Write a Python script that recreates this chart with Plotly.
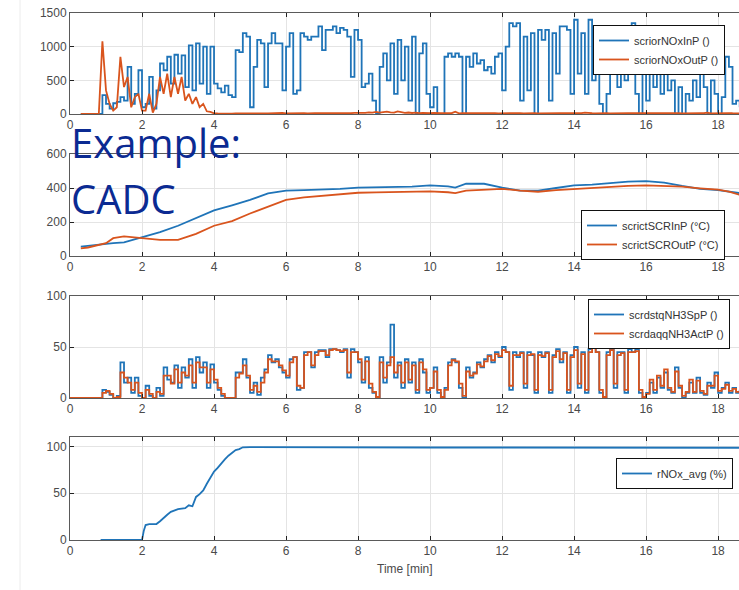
import plotly.graph_objects as go

# ---------------- data ----------------
# fast signals sampled every 0.1 min, one row per minute
nox_in = [
    None, None, None, 0, 0, 0, 0, 0, 0, 280,
    150, 80, 160, 180, 250, 200, 700, 150, 300, 650,
    100, 150, 550, 80, 350, 750, 650, 850, 450, 880,
    600, 870, 400, 1020, 350, 1050, 450, 1000, 300, 1000,
    450, 380, 320, 420, 280, 250, 950, 920, 1200, 1150,
    100, 700, 1100, 1050, 400, 1050, 1200, 1050, 1050, 350,
    1000, 1200, 300, 350, 1200, 1150, 1100, 1150, 1150, 1300,
    950, 1250, 1250, 1300, 1200, 1280, 1250, 1150, 550, 1250,
    1100, 400, 450, 600, 200, 0, 700, 900, 500, 1050,
    300, 1100, 500, 1000, 200, 1150, 0, 900, 1050, 300,
    100, 400, 0, 0, 850, 900, 850, 900, 850, 0,
    850, 700, 900, 750, 800, 650, 700, 600, 850, 900,
    350, 1000, 1350, 1300, 1350, 200, 1150, 350, 1200, 0,
    1250, 1100, 1250, 200, 1200, 600, 1300, 1300, 1250, 300,
    1400, 600, 1200, 300, 1400, 500, 800, 150, 0, 300,
    800, 1300, 400, 1200, 500, 1300, 1350, 300, 0, 600,
    200, 900, 400, 700, 300, 600, 350, 500, 0, 400,
    0, 300, 200, 500, 250, 700, 400, 0, 500, 300,
    0, 250, 850, 700, 150, 200, 100,
]
nox_out = [
    None, None, None, 0, 0, 0, 0, 0, 0, 1080,
    350, 150, 50, 100, 850, 400, 550, 100, 250, 300,
    50, 50, 300, 20, 150, 550, 300, 600, 250, 550,
    300, 550, 200, 300, 150, 250, 100, 150, 40, 30,
    10, 8, 5, 6, 4, 5, 8, 6, 10, 12,
    8, 10, 6, 12, 8, 10, 14, 9, 12, 15,
    10, 12, 8, 14, 10, 12, 9, 15, 11, 13,
    12, 10, 14, 9, 13, 16, 11, 14, 12, 18,
    15, 22, 18, 25, 20, 30, 22, 28, 35, 25,
    20, 40, 25, 18, 22, 15, 20, 12, 16, 10,
    12, 15, 10, 12, 14, 9, 12, 35, 10, 12,
    10, 12, 9, 11, 13, 10, 12, 9, 11, 10,
    12, 10, 13, 9, 11, 12, 10, 14, 11, 12,
    10, 12, 11, 13, 10, 12, 14, 11, 10, 12,
    13, 10, 12, 20, 11, 12, 10, 14, 11, 12,
    10, 12, 11, 13, 10, 12, 11, 14, 10, 12,
    11, 12, 10, 13, 11, 12, 10, 14, 11, 12,
    10, 12, 11, 13, 10, 12, 11, 20, 10, 12,
    11, 12, 10, 13, 11, 12, 10,
]
nh3_sp = [
    0, 0, 0, 0, 0, 0, 0, 0, 0, 8,
    6, 3, 0, 2, 35, 15, 20, 5, 20, 2,
    0, 12, 2, 0, 10, 2, 30, 18, 15, 32,
    10, 30, 20, 38, 10, 40, 25, 35, 10, 33,
    15, 8, 2, 0, 0, 0, 25, 25, 38, 20,
    5, 15, 3, 20, 28, 42, 35, 38, 30, 25,
    20, 38, 40, 8, 10, 45, 45, 30, 45, 47,
    47, 40, 48, 48, 47, 45, 48, 20, 48, 45,
    35, 15, 40, 10, 5, 0, 40, 15, 35, 72,
    20, 35, 10, 38, 15, 35, 5, 38, 25, 5,
    10, 30, 5, 0, 10, 35, 38, 35, 10, 0,
    30, 20, 25, 35, 30, 38, 42, 35, 45, 40,
    50, 45, 8, 45, 40, 45, 10, 45, 42, 5,
    45, 40, 45, 5, 42, 48, 35, 45, 5, 42,
    50, 10, 45, 5, 48, 52, 45, 5, 0, 45,
    48, 10, 45, 45, 5, 48, 45, 48, 5, 0,
    5, 15, 5, 20, 10, 25, 8, 5, 30, 10,
    0, 5, 15, 5, 20, 5, 3, 15, 10, 25,
    5, 10, 15, 5, 10, 5, 8,
]
nh3_act = [
    0, 0, 0, 0, 0, 0, 0, 0, 0, 5,
    7, 4, 0, 1, 25, 20, 15, 8, 15, 5,
    0, 8, 4, 0, 6, 4, 22, 22, 14, 28,
    15, 25, 22, 32, 15, 35, 30, 30, 15, 28,
    18, 10, 4, 0, 0, 0, 20, 24, 32, 22,
    8, 12, 6, 15, 25, 38, 36, 36, 32, 27,
    22, 35, 40, 12, 10, 42, 45, 32, 42, 46,
    46, 42, 47, 48, 47, 46, 47, 25, 45, 45,
    38, 18, 36, 14, 6, 1, 35, 20, 32, 40,
    25, 32, 15, 35, 18, 32, 8, 35, 28, 8,
    10, 26, 8, 1, 8, 32, 37, 36, 14, 2,
    26, 22, 24, 33, 31, 36, 41, 37, 43, 41,
    47, 45, 12, 42, 42, 44, 14, 42, 43, 8,
    42, 41, 44, 8, 40, 46, 38, 44, 8, 40,
    47, 14, 43, 8, 45, 49, 45, 8, 1, 42,
    47, 14, 42, 44, 8, 45, 45, 46, 8, 1,
    4, 18, 8, 22, 12, 28, 10, 6, 26, 12,
    2, 6, 18, 6, 17, 7, 4, 12, 12, 22,
    7, 9, 13, 7, 9, 6, 7,
]
t_fast = [round(i * 0.1, 1) for i in range(len(nox_in))]

t_temp = [0.3, 0.5, 1.0, 1.2, 1.5, 2.0, 2.5, 3.0, 3.5, 4.0, 4.5, 5.0, 5.5, 6.0,
          6.5, 7.0, 7.5, 8.0, 8.5, 9.0, 9.5, 10.0, 10.5, 10.7, 11.0, 11.5, 12.0,
          12.5, 13.0, 13.5, 14.0, 14.5, 15.0, 15.5, 16.0, 16.5, 17.0, 17.5, 18.0,
          18.3, 18.6]
scr_in = [55, 60, 75, 76, 80, 108, 140, 178, 222, 268, 298, 330, 368, 385, 388,
          390, 395, 402, 403, 405, 408, 415, 410, 402, 425, 425, 402, 385, 385,
          400, 415, 420, 430, 438, 440, 432, 412, 395, 388, 380, 370]
scr_out = [45, 50, 75, 105, 115, 105, 95, 95, 130, 178, 205, 250, 290, 330, 345,
           355, 362, 372, 374, 376, 378, 380, 375, 370, 385, 390, 395, 385, 378,
           388, 395, 400, 405, 412, 415, 412, 408, 398, 390, 378, 360]

t_rnox = [0.85, 1.0, 1.5, 2.0, 2.05, 2.1, 2.2, 2.4, 2.5, 2.6, 2.7, 2.8, 3.0, 3.2,
          3.3, 3.4, 3.5, 3.6, 3.7, 3.8, 3.9, 4.0, 4.1, 4.2, 4.3, 4.4, 4.5, 4.6,
          4.7, 4.8, 5.0, 6.0, 8.0, 10.0, 12.0, 14.0, 16.0, 18.0, 18.6]
rnox = [0, 0, 0, 0, 10, 16, 17, 17, 20, 24, 27, 30, 33, 34, 37, 36, 46, 49, 53,
        60, 66, 73, 77, 82, 86, 90, 93, 96, 97, 99, 99.2, 99, 99, 98.8, 98.8,
        98.8, 98.8, 98.6, 98.5]

x_ticks = [0, 2, 4, 6, 8, 10, 12, 14, 16, 18]
y_ticks = [[0, 500, 1000, 1500], [0, 200, 400, 600], [0, 50, 100], [0, 50, 100]]
y_ranges = [[0, 1500], [0, 600], [0, 100], [0, 110]]
names = [["scriorNOxInP ()", "scriorNOxOutP ()"],
         ["scrictSCRInP (°C)", "scrictSCROutP (°C)"],
         ["scrdstqNH3SpP ()", "scrdaqqNH3ActP ()"],
         ["rNOx_avg (%)"]]

# ---------------- figure ----------------
W, H = 739, 590
BLUE = "#1f74b8"
ORANGE = "#d9541d"
TXT = "#4a4a4a"

# panel vertical pixel extents (top, bottom)
panels = [(13, 114), (154, 256), (296, 398), (437, 540)]
legend_pos = [(725, 25), (725, 210), (730, 299), (733, 458)]

fig = go.Figure()
series = [
    [(t_fast, nox_in, BLUE, "hv"), (t_fast, nox_out, ORANGE, "linear")],
    [(t_temp, scr_in, BLUE, "linear"), (t_temp, scr_out, ORANGE, "linear")],
    [(t_fast, nh3_sp, BLUE, "hv"), (t_fast, nh3_act, ORANGE, "hv")],
    [(t_rnox, rnox, BLUE, "linear")],
]
for p, group in enumerate(series):
    sfx = "" if p == 0 else str(p + 1)
    for k, (xs, ys, col, shp) in enumerate(group):
        fig.add_trace(go.Scatter(
            x=xs, y=ys, mode="lines", name=names[p][k],
            line=dict(color=col, width=1.8, shape=shp),
            xaxis="x" + sfx, yaxis="y" + sfx,
            legend="legend" + sfx, showlegend=True,
        ))

layout = dict(
    width=W, height=H, margin=dict(l=0, r=0, t=0, b=0),
    paper_bgcolor="white", plot_bgcolor="white",
    font=dict(family="Liberation Sans, Arial, sans-serif", size=12, color=TXT),
)
x0 = 70 / W
for p, (top, bot) in enumerate(panels):
    sfx = "" if p == 0 else str(p + 1)
    dom = [1 - bot / H, 1 - top / H]
    layout["xaxis" + sfx] = dict(
        domain=[x0, 1], range=[0, 18.58], anchor="y" + sfx,
        tickvals=x_ticks, ticks="inside", ticklen=4, tickcolor="#222",
        showline=True, linecolor="#5a5a5a", linewidth=1, mirror="ticks",
        showgrid=True, gridcolor="#e4e4e4", zeroline=False,
        tickfont=dict(size=12, color=TXT), automargin=False, fixedrange=True,
    )
    layout["yaxis" + sfx] = dict(
        domain=dom, range=y_ranges[p], anchor="x" + sfx,
        tickvals=y_ticks[p], ticks="inside", ticklen=4, tickcolor="#222",
        showline=True, linecolor="#5a5a5a", linewidth=1, mirror=False,
        showgrid=True, gridcolor="#e4e4e4", zeroline=False,
        tickfont=dict(size=12, color=TXT), automargin=False, fixedrange=True,
    )
    lx, ly = legend_pos[p]
    layout["legend" + sfx] = dict(
        x=lx / W, y=1 - ly / H, xanchor="right", yanchor="top",
        xref="paper", yref="paper",
        bgcolor="white", bordercolor="#111", borderwidth=1,
        font=dict(size=11, color="#333"), tracegroupgap=0,
    )
fig.update_layout(**layout)

fig.add_annotation(text="Time [min]", x=405 / W, y=1 - 578 / H, xref="paper",
                   yref="paper", showarrow=False, font=dict(size=12, color=TXT))
fig.add_annotation(text="Example:", x=x0 - 0.002, y=1 - 142 / H, xref="paper",
                   yref="paper", xanchor="left", yanchor="middle", showarrow=False,
                   font=dict(family="Open Sans", size=40, color="#0b2a92"))
fig.add_annotation(text="CADC", x=x0 - 0.002, y=1 - 198 / H, xref="paper",
                   yref="paper", xanchor="left", yanchor="middle", showarrow=False,
                   font=dict(family="Open Sans", size=40, color="#0b2a92"))
fig.add_shape(type="line", xref="paper", yref="paper", x0=20 / W, x1=20 / W,
              y0=0, y1=1, line=dict(color="#ececec", width=1))

fig.write_html("out.html")
